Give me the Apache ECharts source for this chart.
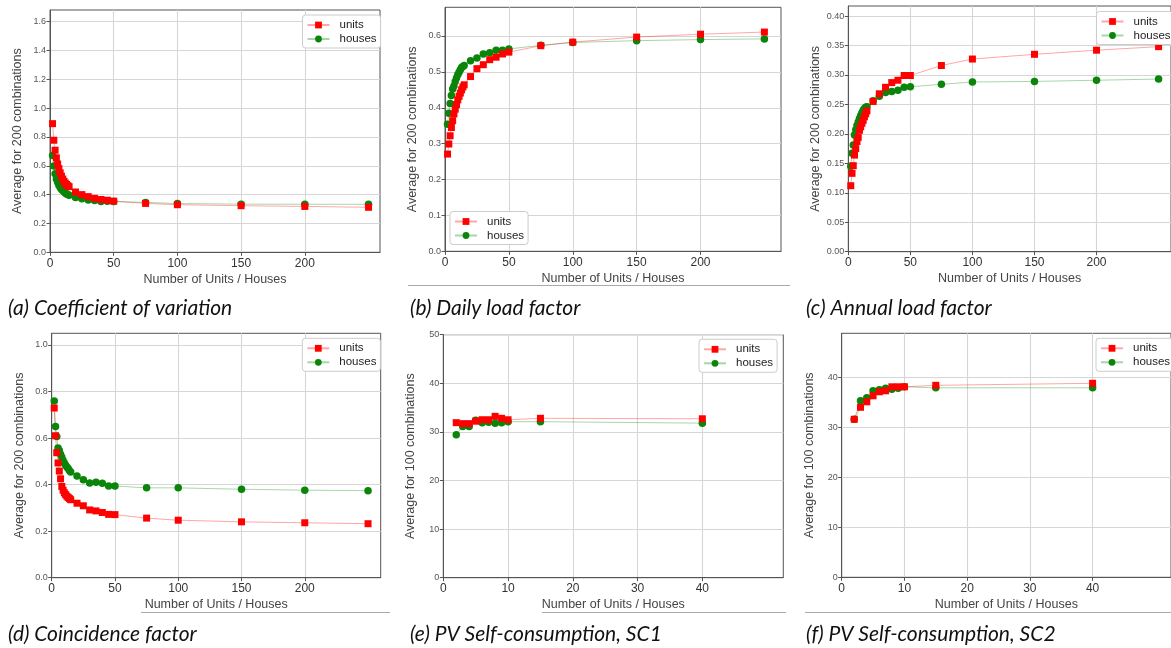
<!DOCTYPE html>
<html>
<head>
<meta charset="utf-8">
<script src="https://cdn.jsdelivr.net/npm/echarts@6/dist/echarts.min.js"></script>
<style>
  html, body { margin: 0; padding: 0; background: #ffffff; }
  #chart { width: 1171px; height: 648px; }
</style>
</head>
<body>
<div id="chart"></div>
<script>
// Group sizes (number of units / houses) for the load metrics and the PV metrics
const groupSizes = [2, 3, 4, 5, 6, 7, 8, 9, 10, 11, 12, 13, 14, 15, 20, 25, 30, 35, 40, 45, 50, 75, 100, 150, 200, 250];
const pvGroupSizes = [2, 3, 4, 5, 6, 7, 8, 9, 10, 15, 40];

// (a) Coefficient of variation
const cvUnits  = [0.892, 0.777, 0.708, 0.655, 0.612, 0.580, 0.551, 0.528, 0.508, 0.492, 0.480, 0.470, 0.462, 0.455, 0.418, 0.400, 0.386, 0.374, 0.366, 0.361, 0.355, 0.339, 0.330, 0.323, 0.318, 0.312];
const cvHouses = [0.671, 0.598, 0.545, 0.508, 0.485, 0.465, 0.450, 0.438, 0.428, 0.420, 0.412, 0.405, 0.400, 0.395, 0.380, 0.371, 0.362, 0.359, 0.353, 0.354, 0.352, 0.346, 0.338, 0.334, 0.333, 0.333];

// (b) Daily load factor
const dlfUnits  = [0.271, 0.299, 0.322, 0.345, 0.364, 0.383, 0.396, 0.409, 0.422, 0.432, 0.441, 0.450, 0.458, 0.464, 0.487, 0.509, 0.520, 0.534, 0.541, 0.550, 0.555, 0.573, 0.583, 0.597, 0.605, 0.611];
const dlfHouses = [0.354, 0.385, 0.412, 0.434, 0.452, 0.461, 0.473, 0.483, 0.492, 0.499, 0.506, 0.512, 0.515, 0.518, 0.531, 0.539, 0.550, 0.553, 0.560, 0.560, 0.564, 0.574, 0.582, 0.587, 0.590, 0.592];

// (c) Annual load factor
const alfUnits  = [0.112, 0.133, 0.146, 0.164, 0.175, 0.187, 0.194, 0.206, 0.212, 0.218, 0.223, 0.229, 0.234, 0.239, 0.255, 0.268, 0.279, 0.287, 0.291, 0.299, 0.299, 0.316, 0.327, 0.335, 0.342, 0.348];
const alfHouses = [0.145, 0.167, 0.181, 0.198, 0.207, 0.214, 0.220, 0.226, 0.231, 0.236, 0.240, 0.243, 0.245, 0.246, 0.256, 0.264, 0.270, 0.272, 0.274, 0.279, 0.280, 0.284, 0.288, 0.289, 0.291, 0.293];

// (d) Coincidence factor
const cfUnits  = [0.729, 0.610, 0.537, 0.493, 0.458, 0.425, 0.392, 0.376, 0.365, 0.357, 0.350, 0.345, 0.340, 0.335, 0.320, 0.309, 0.291, 0.287, 0.280, 0.272, 0.271, 0.256, 0.247, 0.240, 0.236, 0.232];
const cfHouses = [0.759, 0.650, 0.607, 0.557, 0.547, 0.530, 0.517, 0.504, 0.493, 0.483, 0.476, 0.469, 0.461, 0.454, 0.437, 0.421, 0.407, 0.410, 0.406, 0.394, 0.394, 0.386, 0.386, 0.380, 0.376, 0.374];

// (e) PV self-consumption SC1 and (f) SC2
const sc1Units  = [31.9, 31.7, 31.7, 32.2, 32.5, 32.5, 33.2, 32.8, 32.5, 32.8, 32.7];
const sc1Houses = [29.4, 31.1, 31.1, 32.4, 31.9, 32.0, 31.8, 31.9, 32.1, 32.1, 31.8];
const sc2Units  = [31.6, 34.0, 35.1, 36.3, 37.1, 37.3, 38.1, 38.1, 38.1, 38.4, 38.8];
const sc2Houses = [31.6, 35.3, 35.9, 37.3, 37.5, 37.8, 37.6, 37.8, 38.1, 37.9, 37.9];

// Tick values
const xTicksLoad = [0, 50, 100, 150, 200];
const xTicksPV = [0, 10, 20, 30, 40];
const yTicksCV = [0, 0.2, 0.4, 0.6, 0.8, 1.0, 1.2, 1.4, 1.6];
const yTicksDLF = [0, 0.1, 0.2, 0.3, 0.4, 0.5, 0.6];
const yTicksALF = [0, 0.05, 0.10, 0.15, 0.20, 0.25, 0.30, 0.35, 0.40];
const yTicksCF = [0, 0.2, 0.4, 0.6, 0.8, 1.0];
const yTicksSC1 = [0, 10, 20, 30, 40, 50];
const yTicksSC2 = [0, 10, 20, 30, 40];

// Text
const xAxisTitle = 'Number of Units / Houses';
const yTitle200 = 'Average for 200 combinations';
const yTitle100 = 'Average for 100 combinations';
const captions = [
  '(a) Coefficient of variation',
  '(b) Daily load factor',
  '(c) Annual load factor',
  '(d) Coincidence factor',
  '(e) PV Self-consumption, SC1',
  '(f) PV Self-consumption, SC2'
];
const seriesNames = ['units', 'houses'];

const FONT = '"Liberation Sans", Arial, sans-serif';

// Panel layout: plot box, axis ranges and legend placement
const panels = [
  { grid: { left: 50, top: 10, width: 330, height: 242.3 }, xMax: 259, xTicks: xTicksLoad, yMax: 1.68, yTicks: yTicksCV, dec: 1,
    yName: yTitle200, x: groupSizes, units: cvUnits, houses: cvHouses, legend: { left: 302.5, top: 15 } },
  { grid: { left: 445, top: 7.3, width: 336, height: 244 }, xMax: 263, xTicks: xTicksLoad, yMax: 0.68, yTicks: yTicksDLF, dec: 1,
    yName: yTitle200, x: groupSizes, units: dlfUnits, houses: dlfHouses, legend: { left: 450, top: 211.5 } },
  { grid: { left: 848.3, top: 6, width: 326.3, height: 245.7 }, xMax: 260, xTicks: xTicksLoad, yMax: 0.417, yTicks: yTicksALF, dec: 2,
    yName: yTitle200, x: groupSizes, units: alfUnits, houses: alfHouses, legend: { left: 1096.5, top: 11.5 } },
  { grid: { left: 51.7, top: 333.3, width: 329, height: 244.4 }, xMax: 260, xTicks: xTicksLoad, yMax: 1.05, yTicks: yTicksCF, dec: 1,
    yName: yTitle200, x: groupSizes, units: cfUnits, houses: cfHouses, legend: { left: 302.3, top: 338.3 } },
  { grid: { left: 443.3, top: 334.7, width: 340, height: 243 }, xMax: 52.5, xTicks: xTicksPV, yMax: 50, yTicks: yTicksSC1, dec: 0,
    yName: yTitle100, x: pvGroupSizes, units: sc1Units, houses: sc1Houses, legend: { left: 699, top: 339.3 } },
  { grid: { left: 841.7, top: 333.3, width: 338, height: 244 }, xMax: 52.5, xTicks: xTicksPV, yMax: 48.8, yTicks: yTicksSC2, dec: 0,
    yName: yTitle100, x: pvGroupSizes, units: sc2Units, houses: sc2Houses, legend: { left: 1096, top: 338.3 } }
];

const captionPos = [[8, 308], [410, 308], [806, 308], [8, 634], [410, 634], [806, 634]];
const ruleLines = [[408, 285.5, 790, 285.5], [141, 612.5, 390, 612.5], [542, 612.5, 786, 612.5], [805, 612.5, 1171, 612.5]];

const grids = [], xAxes = [], yAxes = [], series = [], legends = [];

panels.forEach((p, i) => {
  grids.push(Object.assign({ show: true, borderColor: '#555', borderWidth: 1, backgroundColor: '#fff' }, p.grid));

  xAxes.push({
    type: 'value', gridIndex: i, min: 0, max: p.xMax,
    name: xAxisTitle, nameLocation: 'middle', nameGap: 20.5,
    nameTextStyle: { fontFamily: FONT, fontSize: 12.5, color: '#444' },
    axisLine: { show: true, lineStyle: { color: '#555', width: 1 } },
    axisTick: { show: true, length: 3.5, customValues: p.xTicks, lineStyle: { color: '#555' } },
    axisLabel: { customValues: p.xTicks, fontFamily: FONT, fontSize: 12, color: '#333', margin: 5 },
    splitLine: { show: true, lineStyle: { color: '#d6d6d6', width: 1.1 } }
  });

  yAxes.push({
    type: 'value', gridIndex: i, min: 0, max: p.yMax,
    name: p.yName, nameLocation: 'middle', nameGap: 26,
    nameTextStyle: { fontFamily: FONT, fontSize: 12.5, color: '#444' },
    axisLine: { show: true, lineStyle: { color: '#555', width: 1 } },
    axisTick: { show: true, length: 3.5, customValues: p.yTicks, lineStyle: { color: '#555' } },
    axisLabel: { customValues: p.yTicks, fontFamily: FONT, fontSize: 9, color: '#555', margin: 4,
                 formatter: v => Number(v).toFixed(p.dec) },
    splitLine: { show: true, lineStyle: { color: '#d6d6d6', width: 1.1 } }
  });

  // houses drawn first so that the unit markers sit on top
  series.push({
    name: 'houses', type: 'line', xAxisIndex: i, yAxisIndex: i,
    data: p.x.map((x, k) => [x, p.houses[k]]),
    symbol: 'circle', symbolSize: 7.5, showAllSymbol: true,
    itemStyle: { color: '#0a850a' },
    lineStyle: { color: 'rgba(0,140,0,0.35)', width: 1 },
    emphasis: { disabled: true }, animation: false
  });
  series.push({
    name: 'units', type: 'line', xAxisIndex: i, yAxisIndex: i,
    data: p.x.map((x, k) => [x, p.units[k]]),
    symbol: 'rect', symbolSize: 7, showAllSymbol: true,
    itemStyle: { color: '#ff0000' },
    lineStyle: { color: 'rgba(255,0,0,0.35)', width: 1 },
    emphasis: { disabled: true }, animation: false
  });

  legends.push({
    left: p.legend.left, top: p.legend.top, orient: 'vertical',
    data: seriesNames,
    itemWidth: 22, itemHeight: 8.5, itemGap: 2,
    padding: [4, 4, 3, 4],
    backgroundColor: '#fff', borderColor: '#cccccc', borderWidth: 1, borderRadius: 3,
    textStyle: { fontFamily: FONT, fontSize: 11.5, color: '#222', padding: [0, 0, 0, 5] },
    selectedMode: false
  });
});

const graphics = [];
captions.forEach((c, i) => {
  graphics.push({
    type: 'text', x: captionPos[i][0], y: captionPos[i][1], silent: true,
    style: { text: c, fontFamily: 'Lato, "Open Sans", sans-serif', fontStyle: 'italic', fontSize: 21,
             fill: '#111', verticalAlign: 'middle', align: 'left' }
  });
});
ruleLines.forEach(l => {
  graphics.push({
    type: 'line', silent: true,
    shape: { x1: l[0], y1: l[1], x2: l[2], y2: l[3] },
    style: { stroke: '#aaaaaa', lineWidth: 1 }
  });
});

const chart = echarts.init(document.getElementById('chart'), null, { renderer: 'canvas' });
chart.setOption({
  animation: false,
  backgroundColor: '#ffffff',
  grid: grids,
  xAxis: xAxes,
  yAxis: yAxes,
  legend: legends,
  series: series,
  graphic: graphics
});
</script>
</body>
</html>
